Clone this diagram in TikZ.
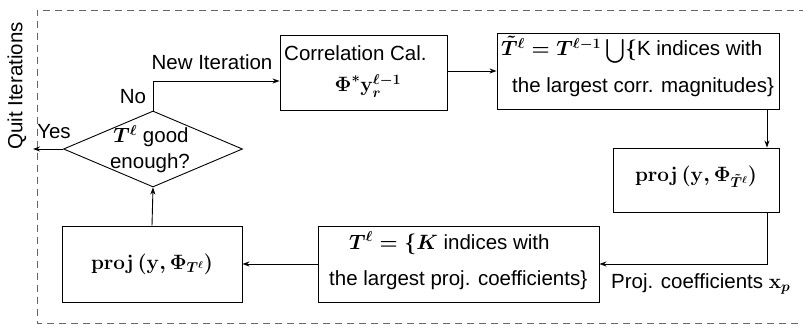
\documentclass[tikz,border=0pt]{standalone}
\usepackage[no-math]{fontspec}
\setmainfont{Liberation Sans}
\usepackage{amsmath}
\usetikzlibrary{shapes.geometric,arrows.meta}
\begin{document}
\begin{tikzpicture}[x=1pt,y=-1pt,
  box/.style={draw,line width=0.9pt,inner sep=0pt,rectangle},
  dia/.style={draw,line width=0.9pt,inner sep=0pt,diamond},
  txt/.style={inner sep=0pt,font=\fontsize{20.5}{24}\selectfont\boldmath},
  arr/.style={-{Stealth[length=7pt,width=5pt]},line width=0.9pt},
  frame/.style={draw=black!60,line width=0.9pt,dash pattern=on 7pt off 5pt}]
\useasboundingbox (0,0) rectangle (803,328);
% frame
\draw[frame] (818,10) -- (37,10) -- (37,323) -- (818,323);
\node[txt,rotate=90] (quit) at (17,86) {Quit Iterations};
% boxes
\node[box,minimum width=167pt,minimum height=75pt] (corr) at (363.5,72.5) {};
\node[box,minimum width=282pt,minimum height=76pt] (ttil) at (638,71) {};
\node[box,minimum width=166pt,minimum height=64pt] (projt) at (696,180) {};
\node[box,minimum width=281pt,minimum height=76pt] (tl) at (458.5,264) {};
\node[box,minimum width=180pt,minimum height=76pt] (projl) at (152,264) {};
\node[dia,minimum width=179pt,minimum height=76pt] (dec) at (153,149) {};
% texts
\node[txt,anchor=west] (corr1) at (284,53) {Correlation Cal.};
\node[txt] (corr2) at (368,86) {$\boldsymbol{\Phi}^{*}\mathbf{y}_{r}^{\ell-1}$};
\node[txt,anchor=west] (tt1) at (501,50) {$\tilde{T}^{\ell}=T^{\ell-1}\,\raisebox{-2pt}{\scalebox{1.15}{$\bigcup$}}\{$K indices with};
\node[txt,anchor=west] (tt2) at (512,87) {the largest corr. magnitudes\}};
\node[txt] (pt) at (696,177) {$\mathbf{proj}\,(\mathbf{y},\boldsymbol{\Phi}_{\tilde{T}^{\ell}})$};
\node[txt,anchor=west] (tl1) at (349,243) {$T^{\ell}=\{K$ indices with};
\node[txt,anchor=west] (tl2) at (329,280) {the largest proj. coefficients\}};
\node[txt] (pl) at (152,264) {$\mathbf{proj}\,(\mathbf{y},\boldsymbol{\Phi}_{T^{\ell}})$};
\node[txt] (d1) at (151,136) {$T^{\ell}$ good};
\node[txt] (d2) at (150,163) {enough?};
% labels
\node[txt] (newit) at (212,62) {New Iteration};
\node[txt] (no) at (133,97) {No};
\node[txt] (yes) at (54,132) {Yes};
\node[txt,anchor=west] (pc) at (611,284) {Proj. coefficients $\mathbf{x}_{p}$};
% connectors
\coordinate (quitend) at (33,149);
\draw[arr] (corr.east |- 0,71) -- (ttil.west |- 0,71);
\draw[arr] (ttil.south -| 767,0) -- (projt.north -| 767,0);
\draw[arr] (projt.south -| 767,0) -- (767,264) -- (tl.east);
\draw[arr] (tl.west) -- (projl.east);
\draw[arr] (projl.north) -- (dec.south);
\draw[arr] (dec.north) -- (153,81) -- (corr.west |- 0,81);
\draw[arr] (dec.west) -- (quitend);
\end{tikzpicture}
\end{document}
